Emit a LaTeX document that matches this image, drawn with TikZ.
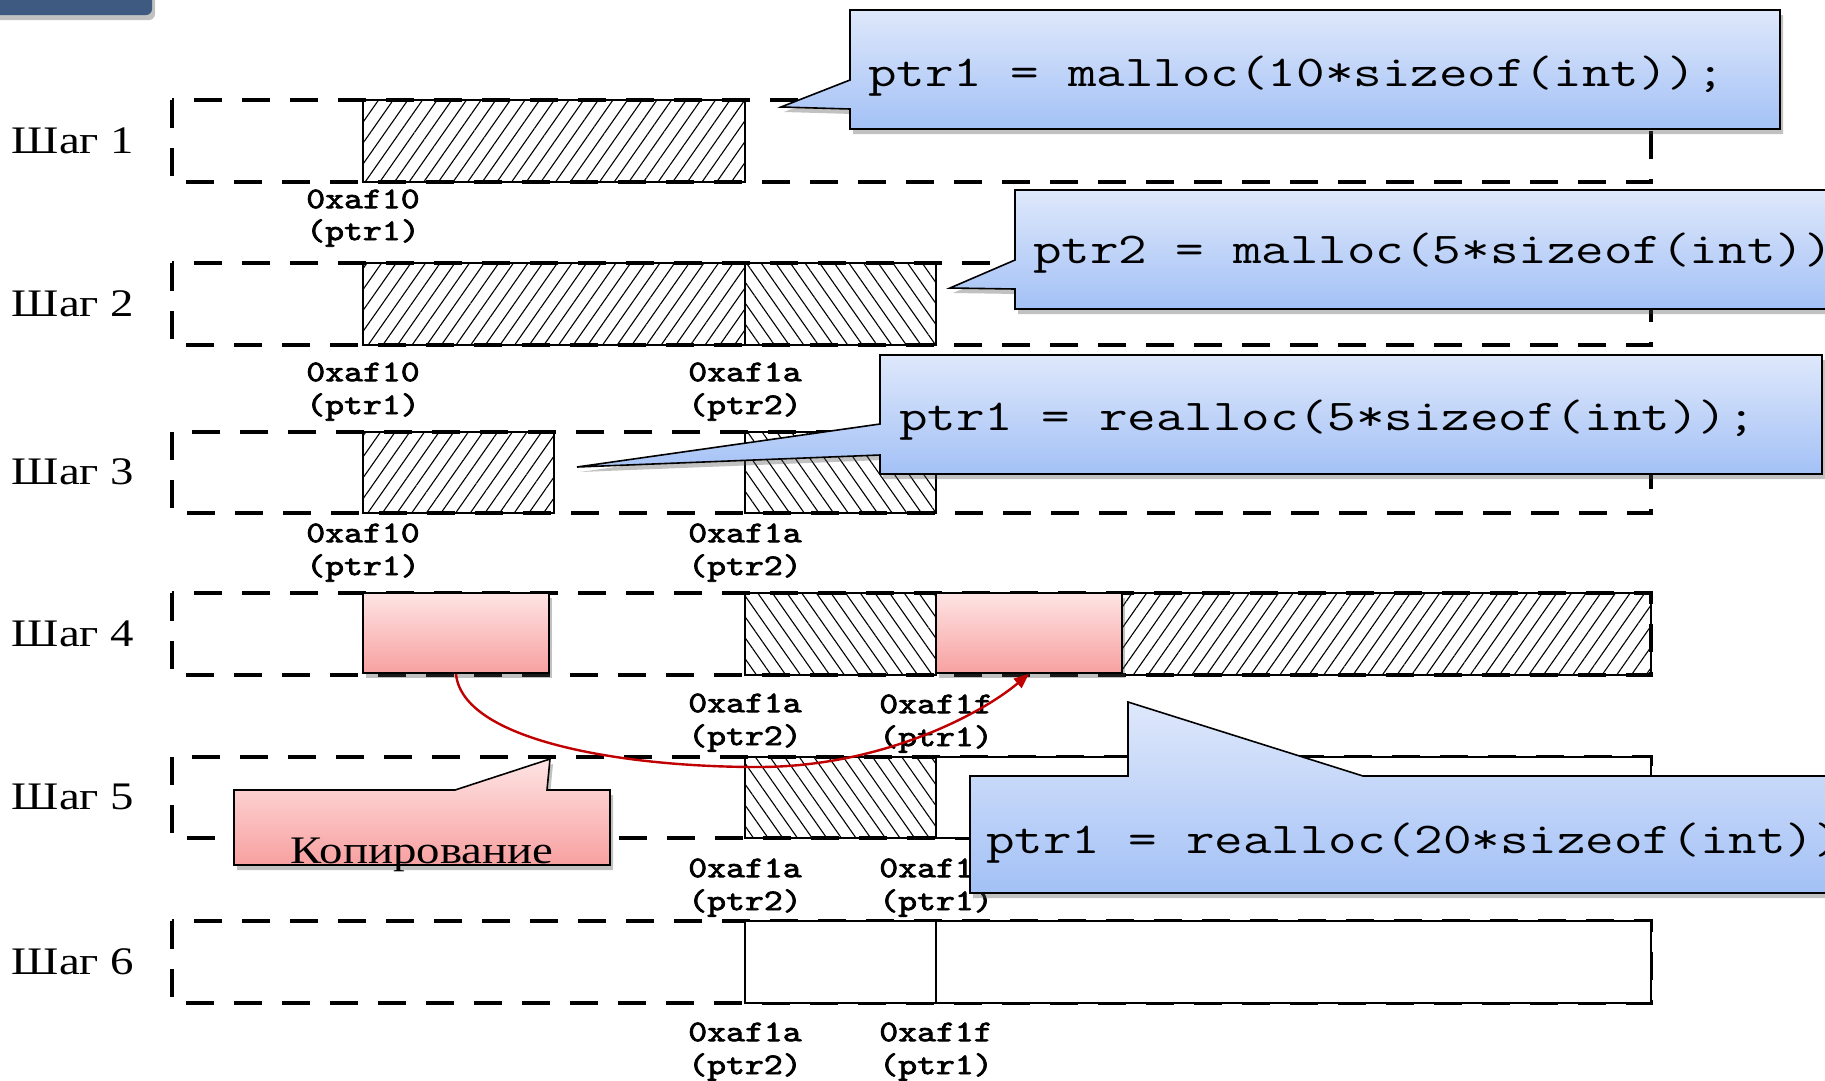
\documentclass[tikz,border=0pt]{standalone}
\usepackage{fontspec}
\newfontfamily\serifcyr{Liberation Serif}
% heavy typewriter face for the addresses
\newfontfamily\addrfont{lmmono10-regular.otf}[FakeBold=2.2]
\usetikzlibrary{patterns.meta,shadows,arrows.meta}

\definecolor{barblue}{HTML}{3E5A80}
\definecolor{calltop}{HTML}{DFE8FB}
\definecolor{callbot}{HTML}{A3C1F6}
\definecolor{redtop}{HTML}{FEE4E4}
\definecolor{redbot}{HTML}{F8A0A0}
\definecolor{arrowred}{HTML}{C00000}

% all lettering is set a little wider than the font's own proportions
\newcommand{\wide}[1]{\scalebox{1.2}[1]{#1}}
\newcommand{\widecode}[1]{\scalebox{1.26}[1]{#1}}

\tikzset{
  rowframe/.style={line width=3.2pt, dash pattern=on 28pt off 20pt},
  blockline/.style={draw=black, line width=1.6pt},
  hatchright/.style={blockline, pattern={Lines[angle=55,distance=12pt,line width=1.1pt]}},
  hatchleft/.style={blockline, pattern={Lines[angle=125,distance=12pt,line width=1.1pt]}},
  plainblock/.style={blockline, fill=white},
  steplabel/.style={font=\serifcyr\fontsize{39}{45}\selectfont, inner sep=0pt},
  addr/.style={font=\addrfont\fontsize{30}{34}\selectfont, inner sep=0pt},
  code/.style={font=\ttfamily\fontsize{44}{50}\selectfont, inner sep=0pt, anchor=base west},
  softshadow/.style={drop shadow={shadow xshift=3pt, shadow yshift=-5pt, opacity=0.35, fill=black!70}},
  callout/.style={draw=black, line width=1.6pt, top color=calltop, bottom color=callbot, softshadow},
  redcallout/.style={draw=black, line width=1.6pt, top color=redtop, bottom color=redbot, softshadow},
  copyblock/.style={draw=black, line width=1.6pt, top color=redtop, bottom color=redbot,
    softshadow, minimum width=186pt, minimum height=80pt, inner sep=0pt},
  copyarrow/.style={draw=arrowred, line width=2.4pt, -{Triangle[length=15pt,width=12pt]}},
}

\begin{document}
\begin{tikzpicture}[x=1pt,y=-1pt]
\useasboundingbox (0,0) rectangle (1825,1080);
\clip (0,0) rectangle (1825,1080);

% header tab in the corner
\fill[barblue, rounded corners=6pt, softshadow] (-20,-20) rectangle (152,15);

% ---- row frames (dashed) ----
\draw[rowframe] (172,100) rectangle (1651,182);
\draw[rowframe] (172,263) rectangle (1651,345);
\draw[rowframe] (172,432) rectangle (1651,513);
\draw[rowframe] (172,593) rectangle (1651,675);
\draw[rowframe] (172,757) rectangle (1651,838);
\draw[rowframe] (172,921) rectangle (1651,1003);

% ---- step labels ----
\node[steplabel] (s1) at (73,141) {\wide{Шаг 1}};
\node[steplabel] (s2) at (73,304) {\wide{Шаг 2}};
\node[steplabel] (s3) at (73,472) {\wide{Шаг 3}};
\node[steplabel] (s4) at (73,634) {\wide{Шаг 4}};
\node[steplabel] (s5) at (73,797) {\wide{Шаг 5}};
\node[steplabel] (s6) at (73,962) {\wide{Шаг 6}};

% ---- step 1 ----
\draw[hatchright] (363,100) rectangle (745,182);
\node[addr] (r1a) at (363,199) {\wide{0xaf10}};
\node[addr] (r1b) at (363,233) {\wide{(ptr1)}};

% ---- step 2 ----
\draw[hatchright] (363,263) rectangle (745,345);
\draw[hatchleft] (745,263) rectangle (936,345);
\node[addr] (r2a) at (363,372) {\wide{0xaf10}};
\node[addr] (r2b) at (363,407) {\wide{(ptr1)}};
\node[addr] (r2c) at (745,372) {\wide{0xaf1a}};
\node[addr] (r2d) at (745,407) {\wide{(ptr2)}};

% ---- step 3 ----
\draw[hatchright] (363,432) rectangle (554,513);
\draw[hatchleft] (745,432) rectangle (936,513);
\node[addr] (r3a) at (363,533) {\wide{0xaf10}};
\node[addr] (r3b) at (363,568) {\wide{(ptr1)}};
\node[addr] (r3c) at (745,533) {\wide{0xaf1a}};
\node[addr] (r3d) at (745,568) {\wide{(ptr2)}};

% ---- step 4 ----
\draw[hatchleft] (745,593) rectangle (936,675);
\draw[hatchright] (1122,593) rectangle (1651,675);
\node[copyblock] (oldblk) at (456,633) {};
\node[copyblock] (newblk) at (1029,633) {};
\node[addr] (r4c) at (745,703) {\wide{0xaf1a}};
\node[addr] (r4d) at (745,738) {\wide{(ptr2)}};
\node[addr] (r4e) at (936,704) {\wide{0xaf1f}};
\node[addr] (r4f) at (936,739) {\wide{(ptr1)}};

% ---- step 5 ----
\draw[hatchleft] (745,757) rectangle (936,838);
\draw[plainblock] (936,757) rectangle (1651,838);
\node[addr] (r5c) at (745,868) {\wide{0xaf1a}};
\node[addr] (r5d) at (745,903) {\wide{(ptr2)}};
\node[addr] (r5e) at (936,868) {\wide{0xaf1f}};
\node[addr] (r5f) at (936,903) {\wide{(ptr1)}};

% ---- step 6 ----
\draw[plainblock] (745,921) rectangle (936,1003);
\draw[plainblock] (936,921) rectangle (1651,1003);
\node[addr] (r6c) at (745,1032) {\wide{0xaf1a}};
\node[addr] (r6d) at (745,1067) {\wide{(ptr2)}};
\node[addr] (r6e) at (936,1032) {\wide{0xaf1f}};
\node[addr] (r6f) at (936,1067) {\wide{(ptr1)}};

% ---- copy arrow between the old and the new block ----
\coordinate (dip) at (758,767);
\draw[copyarrow] (oldblk.south) .. controls (462,740) and (620,767) .. (dip)
  .. controls (880,767) and (980,715) .. (newblk.south);

% ---- "copy" callout ----
\path[redcallout] (234,790) -- (455,790) -- (550,759) -- (547,790) -- (610,790)
  -- (610,865) -- (234,865) -- cycle;
\node[font=\serifcyr\fontsize{39}{45}\selectfont, inner sep=0pt, anchor=base] (copytxt)
  at (422,863) {\wide{Копирование}};

% ---- code callouts ----
\path[callout] (850,10) -- (1780,10) -- (1780,129) -- (850,129) -- (850,109)
  -- (781,107) -- (850,80) -- cycle;
\node[code] (c1) at (868,86) {\widecode{ptr1 = malloc(10*sizeof(int));}};

\path[callout] (1015,190) -- (1900,190) -- (1900,309) -- (1015,309) -- (1015,289)
  -- (950,288) -- (1015,260) -- cycle;
\node[code] (c2) at (1033,263) {\widecode{ptr2 = malloc(5*sizeof(int));}};

\path[callout] (880,355) -- (1822,355) -- (1822,474) -- (880,474) -- (880,455)
  -- (577,467) -- (880,424) -- cycle;
\node[code] (c3) at (899,430) {\widecode{ptr1 = realloc(5*sizeof(int));}};

\path[callout] (970,776) -- (1128,776) -- (1128,702) -- (1363,776) -- (1900,776)
  -- (1900,893) -- (970,893) -- cycle;
\node[code] (c4) at (986,853) {\widecode{ptr1 = realloc(20*sizeof(int));}};
\end{tikzpicture}
\end{document}
